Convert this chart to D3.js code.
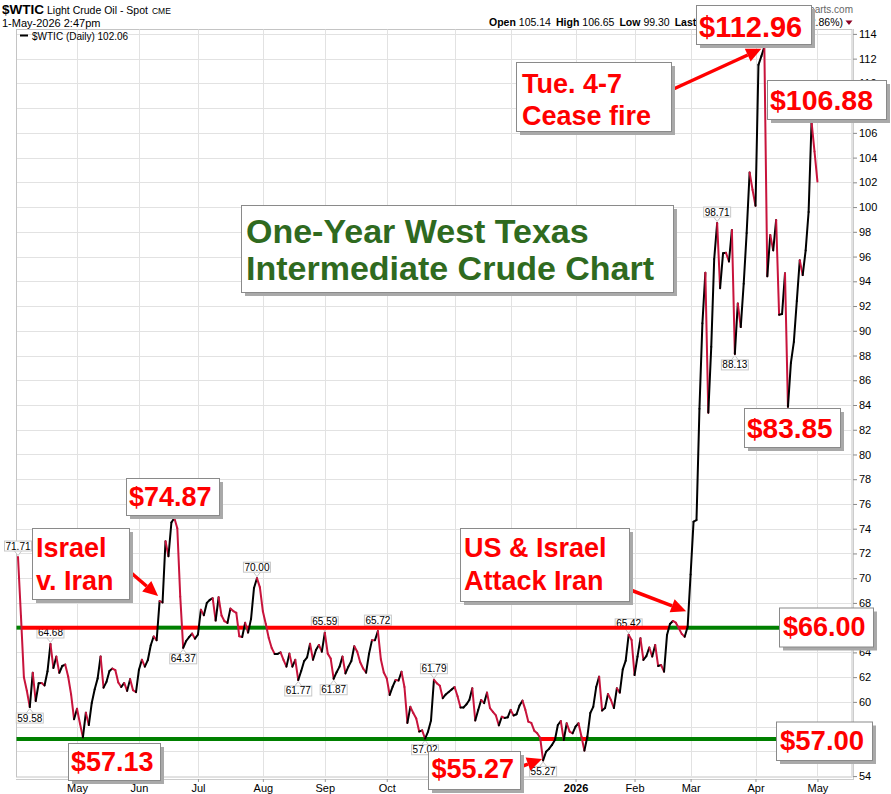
<!DOCTYPE html>
<html><head><meta charset="utf-8">
<script src="https://cdn.jsdelivr.net/npm/d3@7"></script>
<style>
body{margin:0;background:#fff}
svg{display:block}
text{font-family:"Liberation Sans",Arial,Helvetica,sans-serif}
</style>
</head><body>
<svg id="chart" width="891" height="794"></svg>
<script>
// ---------------- DATA ----------------
const monthLabels = ["Apr","May","Jun","Jul","Aug","Sep","Oct","Nov","Dec","2026","Feb","Mar","Apr","May"];
const closesApr25 = [71.71,66.95,61.99,60.90,59.58,62.35,60.07,61.50,61.53,61.33,62.47,64.68,62.74,63.66,62.35,62.90,63.02,62.05,60.60,58.60];
const closesMay25 = [59.45,58.25,57.13,59.13,58.13,59.91,61.02,61.90,63.67,61.15,61.62,62.49,62.69,62.56,61.57,61.20,61.53,60.89,61.84,60.94,60.79];
const closesJun25 = [62.60,63.41,62.85,63.37,64.58,65.29,64.98,68.15,68.04,72.98,71.77,74.50,74.87,74.04,68.51,64.37,64.92,65.24,65.52,65.11];
const closesJul25 = [65.45,67.45,67.00,68.00,68.24,68.38,66.57,68.45,66.98,66.52,66.38,67.54,67.34,67.20,65.31,65.25,66.40,65.60,66.71,69.21,70.00,69.26];
const closesAug25 = [67.33,66.29,65.16,64.35,63.88,63.88,64.00,63.40,62.85,63.90,62.85,63.40,61.77,62.50,63.30,63.60,64.70,63.40,64.20,64.60,64.06];
const closesSep25 = [65.59,63.90,63.50,61.87,62.40,62.85,63.66,62.30,62.85,63.30,64.50,64.05,63.20,62.70,62.36,63.90,64.99,64.98,65.72,63.45,62.37];
const closesOct25 = [61.90,60.56,61.23,61.77,61.73,62.44,61.20,58.30,59.60,59.10,58.65,57.60,57.70,57.02,57.60,58.50,61.79,61.50,61.30,60.30,60.60,60.80,61.00];
const closesNov25 = [61.20,60.45,59.55,59.55,59.80,60.15,61.10,58.50,59.35,60.15,59.90,60.75,59.50,59.20,58.90,58.10,58.80,58.70,58.75];
const closesDec25 = [59.35,58.90,59.00,59.70,60.10,59.35,58.40,58.30,57.67,57.46,57.10,55.27,55.97,56.20,56.52,56.92,58.13,58.45,56.92,58.27,57.60,57.46];
const closesJan26 = [58.00,58.27,57.20,56.06,57.20,59.10,59.60,61.20,62.04,59.30,59.50,60.64,60.15,59.50,61.10,60.75,62.63,63.33,65.42,65.00];
const closesFeb26 = [62.17,63.66,65.14,63.39,63.70,64.40,63.66,64.60,62.90,62.98,62.44,65.40,66.30,66.54,66.40,65.95,65.50,65.27,66.08];
const closesMar26 = [70.30,74.57,74.70,83.70,90.60,94.70,83.38,88.70,95.80,98.71,93.44,96.27,96.30,95.60,98.15,88.13,92.20,90.30,93.80,97.90,102.80,101.40];
const closesApr26 = [100.10,111.50,112.20,112.96,94.40,97.75,96.50,98.96,91.30,91.35,94.65,83.85,87.40,89.10,92.40,95.70,94.50,96.50,99.60,106.88,104.50];
const closesMay26 = [102.06];
const monthlyCloses = [closesApr25,closesMay25,closesJun25,closesJul25,closesAug25,closesSep25,closesOct25,closesNov25,closesDec25,closesJan26,closesFeb26,closesMar26,closesApr26,closesMay26];

const yTicks = d3.range(54, 115, 2);
const levels = [66, 57];
// small value tags: index of the close and side of the tag
const tagIndex = [0,4,11,56,81,95,104,107,122,138,141,178,207,237,243];
const tagSide  = ["a","b","a","b","a","b","a","b","a","b","a","b","a","a","b"];
// big price call-outs (index of the close)
const priceCallIndex = [253,269,261,53,22,178];
const notes = [["Tue. 4-7","Cease fire"],["Israel","v. Iran"],["US & Israel","Attack Iran"],["One-Year West Texas","Intermediate Crude Chart"]];
const header = {sym:"$WTIC", name:"Light Crude Oil - Spot", exch:"CME", date:"1-May-2026 2:47pm",
  open:"105.14", high:"106.65", low:"99.30", last:"102.06", chg:"-3.02 (-2.86%)"};

// ---------------- LAYOUT ----------------
const closes = monthlyCloses.flat();
const n = closes.length;
const monthStart = []; {let c=0; monthlyCloses.forEach(m=>{monthStart.push(c); c+=m.length;});}
const P = {left:16.5, top:29.5, right:852, bottom:777};
const x = d3.scaleLinear().domain([0, n-1]).range([18, 817.45]);
const y = d3.scaleLinear().domain([54, 114]).range([776.1, 33.9]);

const RED="#ff0000", GREEN="#008000", UPC="#000000", DNC="#c8143c", TITLEC="#2f6a1f";
const svg = d3.select("#chart");

// frame
svg.append("rect").attr("x",P.left).attr("y",P.top).attr("width",P.right-P.left).attr("height",P.bottom-P.top)
  .attr("fill","#fff").attr("stroke","#c4c4c4");

// grid
svg.append("g").selectAll("line").data(yTicks).join("line")
  .attr("x1",P.left+0.5).attr("x2",P.right).attr("y1",d=>Math.round(y(d))+0.5).attr("y2",d=>Math.round(y(d))+0.5)
  .attr("stroke","#e2e2e2");
svg.append("g").selectAll("line").data(monthStart.slice(1)).join("line")
  .attr("y1",P.top).attr("y2",P.bottom).attr("x1",d=>Math.round(x(d))+0.5).attr("x2",d=>Math.round(x(d))+0.5)
  .attr("stroke","#e2e2e2");

// axes
const yAxis = d3.axisRight(y).tickValues(yTicks).tickSize(4).tickPadding(2).tickFormat(d3.format("d"));
svg.append("g").attr("transform",`translate(${P.right+1},0)`).call(yAxis)
  .call(g=>g.select(".domain").remove())
  .call(g=>g.selectAll("line").attr("stroke","#888"))
  .call(g=>g.selectAll("text").attr("font-size",11).attr("fill","#000").attr("font-family","Liberation Sans, Arial, sans-serif"));
const xAxis = d3.axisBottom(x).tickValues(monthStart.slice(1)).tickSize(3).tickPadding(2)
  .tickFormat(d=>monthLabels[monthStart.indexOf(d)]);
svg.append("g").attr("transform",`translate(0,${P.bottom+2})`).call(xAxis)
  .call(g=>g.select(".domain").remove())
  .call(g=>g.selectAll("line").attr("stroke","#999"))
  .call(g=>g.selectAll("text").attr("font-size",11).attr("fill","#000").attr("font-family","Liberation Sans, Arial, sans-serif")
      .attr("font-weight",d=>monthLabels[monthStart.indexOf(d)]==="2026"?"bold":"normal"));
// dotted axis lines
svg.append("line").attr("x1",P.left).attr("x2",P.right+2).attr("y1",P.bottom+2.5).attr("y2",P.bottom+2.5)
  .attr("stroke","#999").attr("stroke-dasharray","1,1");
svg.append("line").attr("x1",P.right+1.5).attr("x2",P.right+1.5).attr("y1",P.top).attr("y2",P.bottom+2)
  .attr("stroke","#999").attr("stroke-dasharray","1,1");

// small value tags
const tagG = svg.append("g");
tagIndex.forEach((i,k)=>{
  const px=x(i), py=y(closes[i]), above = tagSide[k]==="a";
  const w=27, h=10;
  const by = above ? py-6-h : py+6;
  const g = tagG.append("g");
  const tip = above ? py-1.5 : py+1.5;
  const edge = above ? by+h : by;
  g.append("path").attr("d",`M${px-3.5},${edge} L${px},${tip} L${px+3.5},${edge}`)
    .attr("fill","#fff").attr("stroke","#c8c8c8");
  g.append("rect").attr("x",px-w/2).attr("y",by).attr("width",w).attr("height",h)
    .attr("fill","#fff").attr("stroke","#c8c8c8");
  g.append("text").attr("x",px).attr("y",by+h-1.5).attr("text-anchor","middle")
    .attr("font-size",10).attr("fill","#000").text(closes[i].toFixed(2));
});

// level lines coloured by price above / below
function levelRuns(L){
  const runs=[]; const ab=v=>v>=L;
  const push=(x1,x2,up)=>{ const r=runs[runs.length-1]; if(r && r.up===up && Math.abs(r.x2-x1)<0.01) r.x2=x2; else runs.push({x1,x2,up}); };
  push(P.left, x(0), ab(closes[0]));
  for(let i=1;i<n;i++){
    const a=closes[i-1], b=closes[i], xa=x(i-1), xb=x(i);
    if(ab(a)===ab(b)) push(xa,xb,ab(a));
    else { const xc = xa + (L-a)/(b-a)*(xb-xa); push(xa,xc,ab(a)); push(xc,xb,ab(b)); }
  }
  push(x(n-1), P.right, ab(closes[n-1]));
  return runs;
}
levels.forEach(L=>{
  svg.append("g").selectAll("line").data(levelRuns(L)).join("line")
    .attr("x1",d=>d.x1).attr("x2",d=>d.x2).attr("y1",y(L)).attr("y2",y(L))
    .attr("stroke",d=>d.up?GREEN:RED).attr("stroke-width",4);
});

// price line, black up-days, crimson down-days
const segs = d3.range(1,n).map(i=>({i}));
svg.append("g").selectAll("line").data(segs).join("line")
  .attr("x1",d=>x(d.i-1)).attr("y1",d=>y(closes[d.i-1])).attr("x2",d=>x(d.i)).attr("y2",d=>y(closes[d.i]))
  .attr("stroke",d=>closes[d.i]>=closes[d.i-1]?UPC:DNC).attr("stroke-width",2).attr("stroke-linecap","round");

// legend
svg.append("line").attr("x1",20).attr("x2",28).attr("y1",35.5).attr("y2",35.5).attr("stroke","#000").attr("stroke-width",2);
svg.append("text").attr("x",32).attr("y",39.5).attr("font-family","DejaVu Sans Mono, monospace").attr("font-size",10)
  .attr("fill","#000").text(`${header.sym} (Daily) ${closes[n-1].toFixed(2)}`);

// header
const h1 = svg.append("text").attr("x",2).attr("y",14).attr("fill","#000");
h1.append("tspan").attr("font-weight","bold").attr("font-size",13.5).text(header.sym);
h1.append("tspan").attr("dx",3).attr("font-size",10.5).text(header.name);
h1.append("tspan").attr("dx",4).attr("font-size",8.5).text(header.exch);
svg.append("text").attr("x",2).attr("y",26.5).attr("font-size",11).attr("fill","#000").text(header.date);
svg.append("text").attr("x",853).attr("y",13).attr("text-anchor","end").attr("font-size",10).attr("fill","#666").text("\u00A9StockCharts.com");
const h2 = svg.append("text").attr("x",489).attr("y",26).attr("font-size",10.5).attr("fill","#000");
[["Open",header.open],["High",header.high],["Low",header.low],["Last",header.last]].forEach(([k,v],j)=>{
  h2.append("tspan").attr("font-weight","bold").attr("dx",j?5:0).text(k);
  h2.append("tspan").attr("dx",3).text(v);
});
const h3 = svg.append("text").attr("x",843).attr("y",26).attr("text-anchor","end").attr("font-size",10.5).attr("fill","#000");
h3.append("tspan").attr("font-weight","bold").text("Chg");
h3.append("tspan").attr("dx",3).text(header.chg);
svg.append("path").attr("d","M845.5,20.5 L852.5,20.5 L849,25 Z").attr("fill","#8b0024");

// annotation boxes
function box(b){
  const g = svg.append("g");
  g.append("rect").attr("x",b[0]+4).attr("y",b[1]+4).attr("width",b[2]).attr("height",b[3]).attr("fill","#a9a9a9");
  g.append("rect").attr("x",b[0]+0.5).attr("y",b[1]+0.5).attr("width",b[2]).attr("height",b[3]).attr("fill","#fff").attr("stroke","#8a8a8a");
  return g;
}
function bigText(g,str,tx,ty,fs,color){
  g.append("text").attr("x",tx).attr("y",ty).attr("font-size",fs).attr("font-weight","bold").attr("fill",color).text(str);
}
function arrow(x1,y1,x2,y2){
  const a=Math.atan2(y2-y1,x2-x1), L=15, Wd=7;
  const bx=x2-L*Math.cos(a), by=y2-L*Math.sin(a);
  svg.append("line").attr("x1",x1).attr("y1",y1).attr("x2",bx).attr("y2",by).attr("stroke",RED).attr("stroke-width",3.5);
  svg.append("path").attr("d",`M${x2},${y2} L${bx+Wd*Math.sin(a)},${by-Wd*Math.cos(a)} L${bx-Wd*Math.sin(a)},${by+Wd*Math.cos(a)} Z`).attr("fill",RED);
}

const priceLayout = [
  {box:[696,5,115,39], tx:699, ty:36.5, fs:29},
  {box:[767,80,119,39], tx:770, ty:109.5, fs:28.5},
  {box:[744,408,96,39], tx:747, ty:437.5, fs:28},
  {box:[126,478,93,37], tx:129, ty:506, fs:27},
  {box:[68,743,92,37], tx:71, ty:770.5, fs:27},
  {box:[428,751,92,38], tx:431.5, ty:777.5, fs:27}
];
const levelLayout = [
  {box:[779,607.5,94,39], tx:783, ty:635.5, fs:27},
  {box:[776,721.5,96,38.5], tx:780, ty:750, fs:27.5}
];
const noteLayout = [
  {box:[516,62,155,69], tx:522, ty:[93,125], fs:27, color:RED},
  {box:[32,528,97,71], tx:36, ty:[557,590], fs:27, color:RED},
  {box:[460,528,169,73], tx:464, ty:[557,590], fs:27, color:RED},
  {box:[241,205,432,87], tx:246, ty:[243,280], fs:34, color:TITLEC}
];

// arrows
const pk = priceCallIndex;
arrow(667,92, x(pk[0])-3, y(closes[pk[0]])+2);
arrow(129,571, x(48)-1.5, y(closes[48])-5);
arrow(628,589, x(227)-1.5, y(closes[227])-15.5);
arrow(520,767, x(pk[5])-1, y(closes[pk[5]])-1.5);

noteLayout.forEach((l,k)=>{ const g=box(l.box); notes[k].forEach((s,j)=>bigText(g,s,l.tx,l.ty[j],l.fs,l.color)); });
priceCallIndex.forEach((i,k)=>{ const l=priceLayout[k]; const g=box(l.box); bigText(g,"$"+closes[i].toFixed(2),l.tx,l.ty,l.fs,RED); });
levels.forEach((L,k)=>{ const l=levelLayout[k]; const g=box(l.box); bigText(g,"$"+L.toFixed(2),l.tx,l.ty,l.fs,RED); });
</script>
</body></html>
